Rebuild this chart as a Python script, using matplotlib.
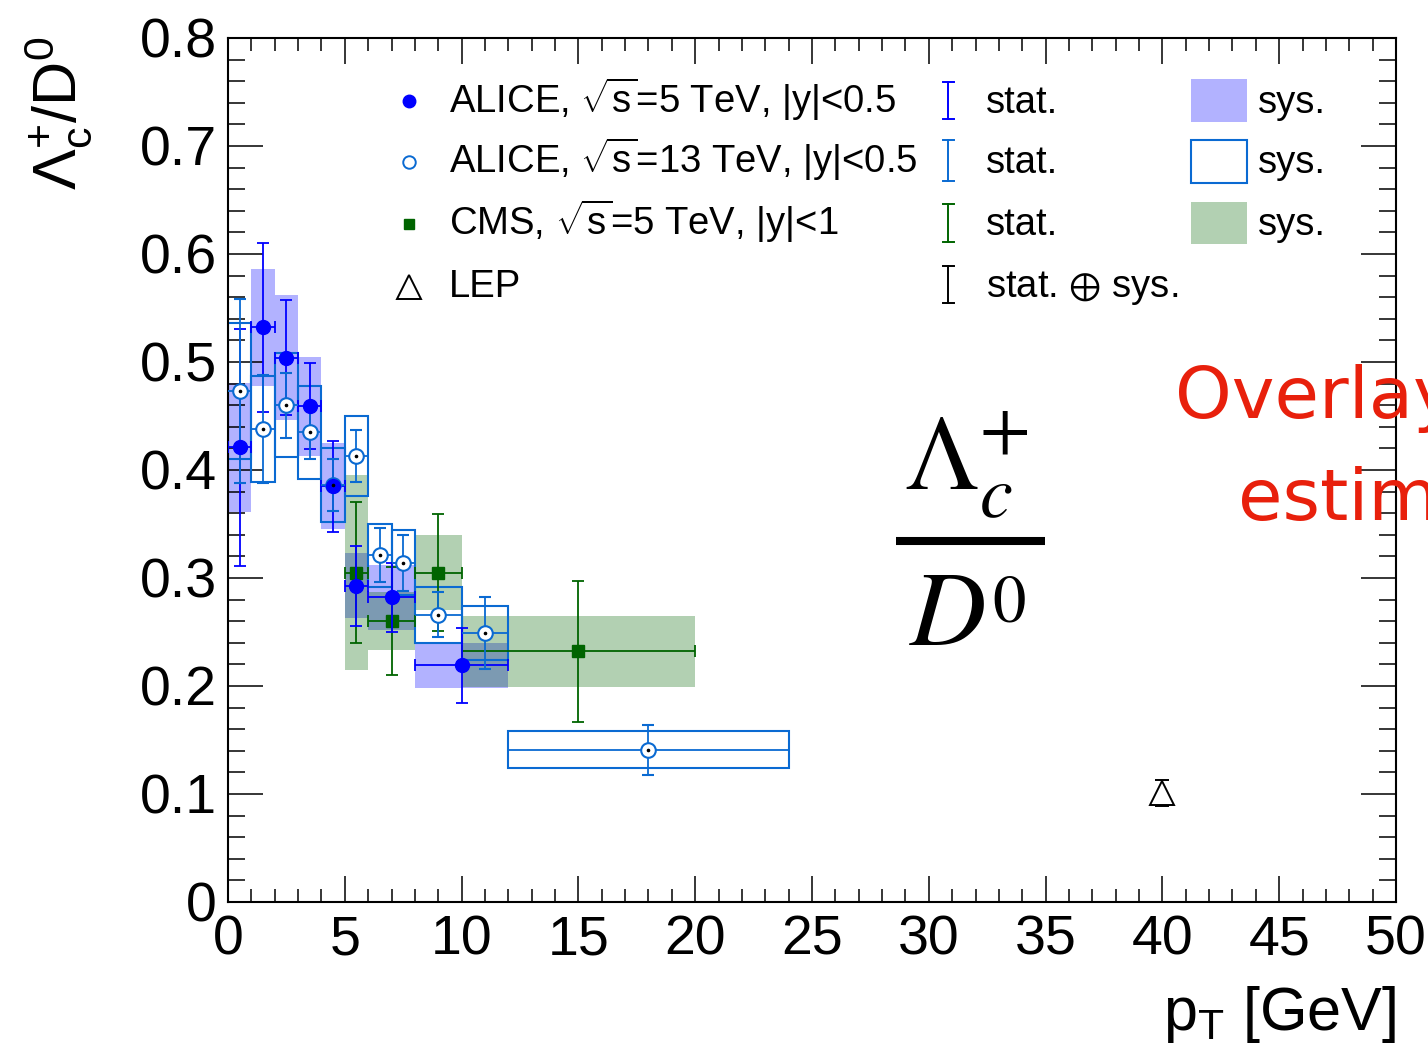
import matplotlib
matplotlib.use("Agg")
import matplotlib.pyplot as plt
import numpy as np
from matplotlib.lines import Line2D
from matplotlib.patches import Rectangle
from matplotlib.ticker import MultipleLocator, FuncFormatter

# ---- Lambda_c+/D0 ratio vs pT ----
# ALICE, sqrt(s)=5 TeV, |y|<0.5
alice5_pt = [0.5, 1.5, 2.5, 3.5, 4.5, 5.5, 7.0, 10.0]
alice5_hw = [0.5, 0.5, 0.5, 0.5, 0.5, 0.5, 1.0, 2.0]
alice5_val = [0.421, 0.532, 0.504, 0.459, 0.385, 0.293, 0.282, 0.219]
alice5_stat = [0.110, 0.078, 0.053, 0.040, 0.042, 0.037, 0.032, 0.035]
alice5_sys = [0.060, 0.054, 0.058, 0.046, 0.040, 0.030, 0.030, 0.021]

# ALICE, sqrt(s)=13 TeV, |y|<0.5
alice13_pt = [0.5, 1.5, 2.5, 3.5, 4.5, 5.5, 6.5, 7.5, 9.0, 11.0, 18.0]
alice13_hw = [0.5, 0.5, 0.5, 0.5, 0.5, 0.5, 0.5, 0.5, 1.0, 1.0, 6.0]
alice13_val = [0.473, 0.438, 0.460, 0.435, 0.386, 0.413, 0.321, 0.314, 0.266, 0.249, 0.141]
alice13_stat = [0.085, 0.050, 0.030, 0.025, 0.024, 0.024, 0.025, 0.026, 0.021, 0.033, 0.023]
alice13_sys = [0.063, 0.049, 0.048, 0.043, 0.034, 0.037, 0.029, 0.030, 0.026, 0.025, 0.017]

# CMS, sqrt(s)=5 TeV, |y|<1
cms_pt = [5.5, 7.0, 9.0, 15.0]
cms_hw = [0.5, 1.0, 1.0, 5.0]
cms_val = [0.305, 0.260, 0.305, 0.232]
cms_stat = [0.065, 0.050, 0.054, 0.065]
cms_sys = [0.090, 0.027, 0.035, 0.033]

# LEP average (stat. + sys.)
lep_pt = [40.0]
lep_val = [0.101]
lep_err = [0.012]

legend_labels = [r"ALICE, $\sqrt{\mathrm{s}}$=5 TeV, |y|<0.5",
                 r"ALICE, $\sqrt{\mathrm{s}}$=13 TeV, |y|<0.5",
                 r"CMS, $\sqrt{\mathrm{s}}$=5 TeV, |y|<1",
                 "LEP"]
stat_labels = ["stat.", "stat.", "stat.", r"stat. $\oplus$ sys."]

BLUE = "#0000ff"
AZURE = "#0a6ad2"
GREEN = "#006400"

plt.rcParams["font.family"] = ["Liberation Sans", "DejaVu Sans"]
plt.rcParams["mathtext.fontset"] = "custom"
plt.rcParams["mathtext.rm"] = "Liberation Sans"
plt.rcParams["mathtext.it"] = "Liberation Sans:italic"
plt.rcParams["mathtext.bf"] = "Liberation Sans:bold"
plt.rcParams["mathtext.sf"] = "Liberation Sans"

W, H = 1428, 1050
fig = plt.figure(figsize=(W / 100, H / 100), dpi=100)


def fx(p):
    return p / W


def fy(p):
    return 1 - p / H


ax = fig.add_axes([fx(228), fy(902), (1396 - 228) / W, (902 - 38) / H])
ax.set_xlim(0, 50)
ax.set_ylim(0, 0.8)
for s in ax.spines.values():
    s.set_linewidth(1.5)

ax.xaxis.set_major_locator(MultipleLocator(5))
ax.xaxis.set_minor_locator(MultipleLocator(1))
ax.yaxis.set_major_locator(MultipleLocator(0.1))
ax.yaxis.set_minor_locator(MultipleLocator(0.02))
ax.xaxis.set_major_formatter(FuncFormatter(lambda v, p: f"{v:.0f}"))
ax.yaxis.set_major_formatter(FuncFormatter(lambda v, p: "0" if abs(v) < 1e-9 else f"{v:.1f}"))
ax.tick_params(axis="x", which="major", direction="in", top=True, length=18.5, width=1.1,
               labelsize=40, pad=9)
ax.tick_params(axis="x", which="minor", direction="in", top=True, length=9.3, width=1.1)
ax.tick_params(axis="y", which="major", direction="in", right=True, length=25, width=1.1,
               labelsize=40, pad=8)
ax.tick_params(axis="y", which="minor", direction="in", right=True, length=12.5, width=1.1)

# systematic boxes
a5v, a5s, a5w = map(np.array, (alice5_val, alice5_sys, alice5_hw))
ax.bar(alice5_pt, 2 * a5s, width=2 * a5w, bottom=a5v - a5s, color=BLUE, alpha=0.3,
       linewidth=0, zorder=1)
cv, cs, cw = map(np.array, (cms_val, cms_sys, cms_hw))
ax.bar(cms_pt, 2 * cs, width=2 * cw, bottom=cv - cs, color=GREEN, alpha=0.3,
       linewidth=0, zorder=1)
a13v, a13s, a13w = map(np.array, (alice13_val, alice13_sys, alice13_hw))
ax.bar(alice13_pt, 2 * a13s, width=2 * a13w, bottom=a13v - a13s, fill=False,
       edgecolor=AZURE, linewidth=1.5, zorder=2)

# statistical uncertainties and points
ax.errorbar(cms_pt, cms_val, yerr=cms_stat, xerr=cms_hw, fmt="s", color=GREEN, ms=8.5,
            elinewidth=1.3, capsize=4, capthick=1.3, zorder=3)
ax.errorbar(alice5_pt, alice5_val, yerr=alice5_stat, xerr=alice5_hw, fmt="none",
            ecolor=BLUE, elinewidth=1.3, capsize=4, capthick=1.3, zorder=4)
ax.errorbar(alice13_pt, alice13_val, xerr=alice13_hw, fmt="none", ecolor=AZURE,
            elinewidth=1.3, capsize=0, zorder=5)
ax.errorbar(alice13_pt, alice13_val, yerr=alice13_stat, fmt="o", mfc="white", mec=AZURE,
            mew=1.5, ms=10.5, ecolor=AZURE, elinewidth=1.3, capsize=4, capthick=1.3,
            zorder=5)
ax.plot(alice5_pt, alice5_val, "o", color=BLUE, ms=10, zorder=6)
ax.plot(alice13_pt, alice13_val, "o", color="black", ms=1.6, zorder=7)
ax.errorbar(lep_pt, lep_val, yerr=lep_err, fmt="^", mfc="white", mec="black", mew=1.4,
            ms=17, ecolor="black", elinewidth=1.3, capsize=5, capthick=1.3, zorder=6)

# axis titles
fig.text(fx(1396), fy(1030), r"$\mathrm{p}_{\mathrm{T}}$ [GeV]", ha="right", va="baseline",
         fontsize=44)
fig.text(fx(58), fy(36), r"$\Lambda_{\mathrm{c}}^{+}$/$\mathrm{D}^{0}$", rotation=90,
         ha="center", va="top", fontsize=44)

# legend
rows = [113, 173, 235, 297]
mk_y = [101, 162, 224, 287]
fig.add_artist(Line2D([fx(409)], [fy(mk_y[0])], marker="o", color=BLUE, ms=9, ls="none"))
fig.add_artist(Line2D([fx(409)], [fy(mk_y[1])], marker="o", mfc="white", mec=AZURE,
                      mew=1.4, ms=9, ls="none"))
fig.add_artist(Line2D([fx(409)], [fy(mk_y[2])], marker="s", color=GREEN, ms=7.5, ls="none"))
fig.add_artist(Line2D([fx(409)], [fy(mk_y[3])], marker="^", mfc="white", mec="black",
                      mew=1.4, ms=17, ls="none"))
for r, lab in zip(rows, legend_labels):
    fig.text(fx(449), fy(r), lab, ha="left", va="baseline", fontsize=27.5)

stat_cols = [BLUE, AZURE, GREEN, "black"]
stat_span = [(82, 119), (140, 181), (204, 242), (266, 303)]
for (t, b), c, r, lab in zip(stat_span, stat_cols, rows, stat_labels):
    fig.add_artist(Line2D([fx(948), fx(948)], [fy(t), fy(b)], color=c, lw=1.4))
    for yy in (t, b):
        fig.add_artist(Line2D([fx(943), fx(954)], [fy(yy), fy(yy)], color=c, lw=1.4))
    fig.text(fx(986), fy(r), lab, ha="left", va="baseline", fontsize=27.5,
             math_fontfamily="stix")

box_span = [(79, 122), (140, 183), (202, 244)]
box_kw = [dict(facecolor=BLUE, alpha=0.3, linewidth=0),
          dict(facecolor="none", edgecolor=AZURE, linewidth=1.5),
          dict(facecolor=GREEN, alpha=0.3, linewidth=0)]
for (t, b), kw, r in zip(box_span, box_kw, rows):
    fig.add_artist(Rectangle((fx(1191), fy(b)), (1247 - 1191) / W, (b - t) / H,
                             transform=fig.transFigure, **kw))
    fig.text(fx(1258), fy(r), "sys.", ha="left", va="baseline", fontsize=27.5)

# large ratio label
fig.text(fx(904), fy(490), r"$\Lambda_{c}^{+}$", ha="left", va="baseline", fontsize=76,
         math_fontfamily="stix")
fig.text(fx(909), fy(645), r"$D$", ha="left", va="baseline", fontsize=76,
         math_fontfamily="stix")
fig.text(fx(992), fy(622), r"$0$", ha="left", va="baseline", fontsize=48,
         math_fontfamily="stix")
fig.add_artist(Line2D([fx(896), fx(1045)], [fy(541), fy(541)], color="black", lw=5.8,
                      solid_capstyle="butt"))

# handwritten note running off the right edge
fig.text(fx(1175), fy(418), "Overlay", ha="left", va="baseline", fontsize=52,
         color="#e8200c", family="DejaVu Sans")
fig.text(fx(1238), fy(520), "estimate", ha="left", va="baseline", fontsize=52,
         color="#e8200c", family="DejaVu Sans")

fig.savefig("out.png", dpi=100)
